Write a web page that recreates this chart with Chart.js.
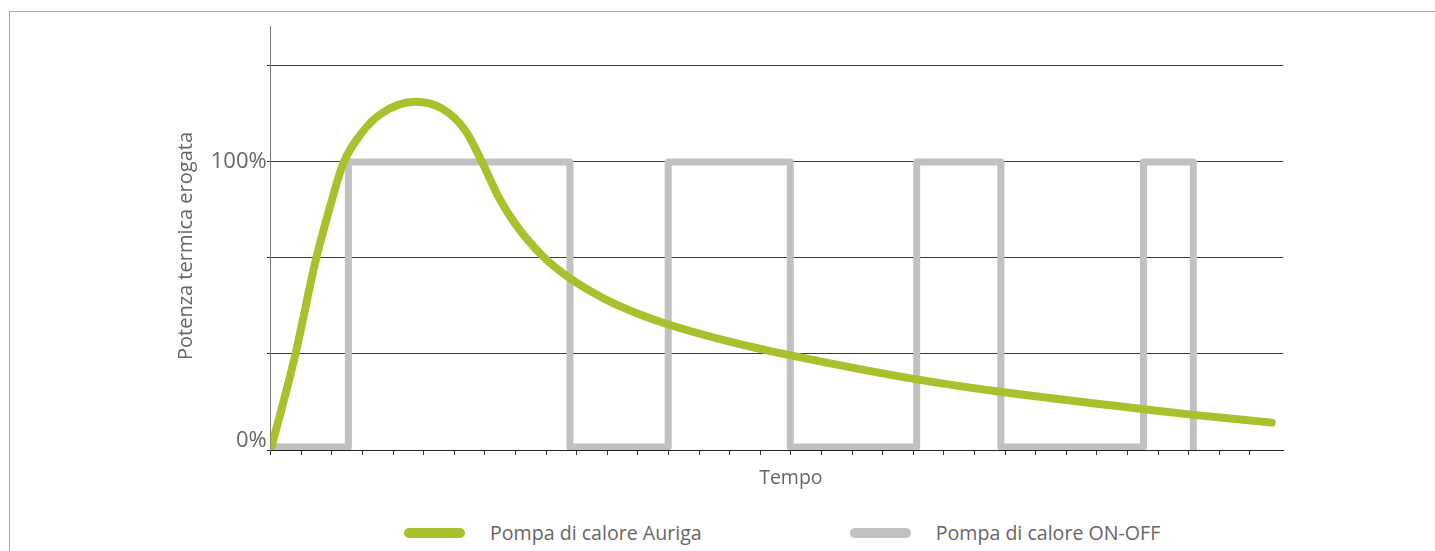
<!DOCTYPE html>
<html lang="it">
<head>
<meta charset="utf-8">
<title>Potenza termica erogata</title>
<script src="https://cdn.jsdelivr.net/npm/chart.js@4.4.1/dist/chart.umd.min.js"></script>
<style>
    html, body { margin: 0; padding: 0; background: #fff; }
    body { width: 1435px; height: 551px; position: relative; overflow: hidden; font-family: "Open Sans", sans-serif; }
    .cornice { position: absolute; left: 9px; top: 11px; right: 0; bottom: 0; border-top: 1px solid #b3a8a4; border-left: 1px solid #b3a8a4; }
    #grafico { position: absolute; left: 0; top: 0; }
    #legenda { position: absolute; left: 404px; top: 520px; display: flex; gap: 148px; color: #6e645f; font-size: 19.6px; line-height: 26px; }
    .voce { display: flex; align-items: center; }
    .voce .linea { width: 61px; height: 10px; border-radius: 5px; margin-right: 25px; }
</style>
</head>
<body>
<div class="cornice"></div>
<canvas id="grafico" width="1435" height="500"></canvas>
<div id="legenda"></div>
<script>
// Pompa di calore Auriga: modulazione continua della potenza
const tempoAuriga = [0, 0.79, 1.45, 1.94, 2.37, 2.97, 3.63, 4.72, 5.59, 6.35, 6.90, 7.44, 7.98, 8.91, 9.78, 10.87, 11.96, 13.05, 15.23, 17.19, 21.11, 23.83, 28.52, 30.15, 32.71];
const potenzaAuriga = [0, 32.4, 64.9, 84.5, 99.5, 110.0, 116.9, 120.9, 118.6, 111.1, 100.1, 88.0, 78.7, 67.1, 59.6, 52.7, 47.5, 43.4, 37.0, 32.4, 24.5, 20.2, 14.2, 12.2, 9.5];

// Pompa ON-OFF: istanti di commutazione e livello dopo ogni commutazione
const tempoOnOff = [0, 2.54, 9.78, 12.99, 16.98, 21.11, 23.86, 28.52, 30.15];
const potenzaOnOff = [1, 100, 1, 100, 1, 100, 1, 100, 0];

const tickTempo = [0, 1, 2, 3, 4, 5, 6, 7, 8, 9, 10, 11, 12, 13, 14, 15, 16, 17, 18, 19, 20, 21, 22, 23, 24, 25, 26, 27, 28, 29, 30, 31, 32];
const tickPotenza = [0, 33.33, 66.67, 100, 133.33];
const etichettePotenza = ['0%', '', '', '100%', ''];

const coloreTesto = '#6e645f';
const font = 'Open Sans';

const punti = (xs, ys) => xs.map((x, i) => ({ x: x, y: ys[i] }));

// titoli degli assi disegnati a mano, un po' spostati rispetto al centro dell'area
const titoliAssi = {
    id: 'titoliAssi',
    afterDraw(chart, args, opts) {
        const { ctx, chartArea: a } = chart;
        ctx.save();
        ctx.fillStyle = coloreTesto;
        ctx.textAlign = 'center';
        ctx.textBaseline = 'middle';
        ctx.font = '19.5px "' + font + '"';
        ctx.fillText(opts.x.testo, (a.left + a.right) / 2 + opts.x.dx, a.bottom + opts.x.dy);
        ctx.translate(opts.y.x, (a.top + a.bottom) / 2 + opts.y.dy);
        ctx.rotate(-Math.PI / 2);
        ctx.font = '20px "' + font + '"';
        ctx.fillText(opts.y.testo, 0, 0);
        ctx.restore();
    }
};

const grafico = new Chart(document.getElementById('grafico'), {
    type: 'line',
    data: {
        datasets: [
            {
                label: 'Pompa di calore Auriga',
                data: punti(tempoAuriga, potenzaAuriga),
                borderColor: '#a6c32e',
                backgroundColor: '#a6c32e',
                borderWidth: 8,
                cubicInterpolationMode: 'monotone',
                borderCapStyle: 'round',
                borderJoinStyle: 'round',
                pointRadius: 0
            },
            {
                label: 'Pompa di calore ON-OFF',
                data: punti(tempoOnOff, potenzaOnOff),
                stepped: 'before',
                borderColor: '#c1c1c1',
                backgroundColor: '#c1c1c1',
                borderWidth: 7,
                borderJoinStyle: 'round',
                pointRadius: 0
            }
        ]
    },
    plugins: [titoliAssi],
    options: {
        responsive: false,
        animation: false,
        events: [],
        layout: { padding: { left: 175, top: 26, right: 152, bottom: 10 } },
        plugins: {
            legend: { display: false },
            tooltip: { enabled: false },
            titoliAssi: {
                x: { testo: 'Tempo', dx: 14, dy: 28 },
                y: { testo: 'Potenza termica erogata', x: 186, dy: 8 }
            }
        },
        scales: {
            x: {
                type: 'linear',
                min: 0,
                max: 33.08,
                afterBuildTicks: s => { s.ticks = tickTempo.map(v => ({ value: v })); },
                afterFit: s => { s.height = 40; },
                ticks: { display: false },
                grid: { drawOnChartArea: false, drawTicks: true, tickLength: 5, color: '#333', lineWidth: 1 },
                border: { display: true, color: '#222', width: 1 }
            },
            y: {
                min: 0,
                max: 147.2,
                afterBuildTicks: s => { s.ticks = tickPotenza.map(v => ({ value: v })); },
                afterFit: s => { s.width = 95.7; },
                ticks: {
                    padding: 0,
                    color: coloreTesto,
                    font: { family: font, size: 22, lineHeight: 0.8 },
                    // l'etichetta 0% sta sopra la linea dell'asse
                    callback: (v, i) => i === 0 ? [etichettePotenza[i], ''] : etichettePotenza[i]
                },
                grid: { color: '#3b3b3b', lineWidth: 1, tickLength: 4, drawTicks: true },
                border: { display: true, color: '#7a7a7a', width: 1 }
            }
        }
    }
});

// legenda in HTML, costruita dai dataset
const legenda = document.getElementById('legenda');
grafico.data.datasets.forEach(ds => {
    const voce = document.createElement('div');
    voce.className = 'voce';
    const linea = document.createElement('span');
    linea.className = 'linea';
    linea.style.background = ds.borderColor;
    const testo = document.createElement('span');
    testo.textContent = ds.label;
    voce.appendChild(linea);
    voce.appendChild(testo);
    legenda.appendChild(voce);
});
</script>
</body>
</html>
